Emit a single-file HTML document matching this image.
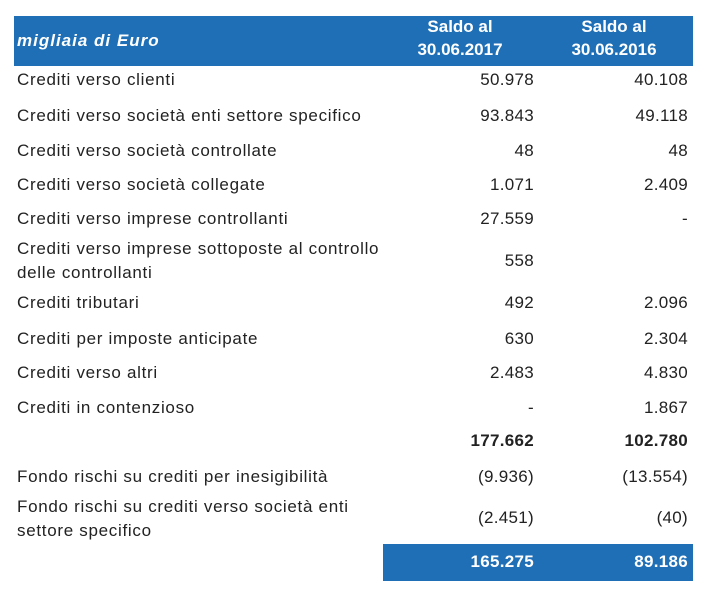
<!DOCTYPE html>
<html><head><meta charset="utf-8"><style>
body{margin:0;width:707px;height:606px;background:#fff;font-family:"Liberation Sans",Arial,sans-serif;color:#222;position:relative;overflow:hidden}
.t{position:absolute;font-size:17px;line-height:24px;white-space:nowrap;letter-spacing:0.7px}
.l{left:17px}
.a{right:173px;text-align:right;letter-spacing:0.3px}
.b{right:19px;text-align:right;letter-spacing:0.3px}
.hd{position:absolute;left:14px;top:16px;width:679px;height:50px;background:#1f6fb7}
.w{color:#fff;font-weight:bold}
</style></head><body>
<div class="hd"></div>
<div class="t w" style="left:17px;top:29px;font-style:italic;letter-spacing:1px">migliaia di Euro</div>
<div class="t w" style="left:400px;width:120px;text-align:center;top:15px;line-height:23px;letter-spacing:0">Saldo al<br>30.06.2017</div>
<div class="t w" style="left:554px;width:120px;text-align:center;top:15px;line-height:23px;letter-spacing:0">Saldo al<br>30.06.2016</div>

<div class="t l" style="top:68px">Crediti verso clienti</div><div class="t a" style="top:68px">50.978</div><div class="t b" style="top:68px">40.108</div>
<div class="t l" style="top:104px">Crediti verso società enti settore specifico</div><div class="t a" style="top:104px">93.843</div><div class="t b" style="top:104px">49.118</div>
<div class="t l" style="top:139px">Crediti verso società controllate</div><div class="t a" style="top:139px">48</div><div class="t b" style="top:139px">48</div>
<div class="t l" style="top:173px">Crediti verso società collegate</div><div class="t a" style="top:173px">1.071</div><div class="t b" style="top:173px">2.409</div>
<div class="t l" style="top:207px">Crediti verso imprese controllanti</div><div class="t a" style="top:207px">27.559</div><div class="t b" style="top:207px">-</div>
<div class="t l" style="top:237px">Crediti verso imprese sottoposte al controllo<br>delle controllanti</div><div class="t a" style="top:249px">558</div>
<div class="t l" style="top:291px">Crediti tributari</div><div class="t a" style="top:291px">492</div><div class="t b" style="top:291px">2.096</div>
<div class="t l" style="top:327px">Crediti per imposte anticipate</div><div class="t a" style="top:327px">630</div><div class="t b" style="top:327px">2.304</div>
<div class="t l" style="top:361px">Crediti verso altri</div><div class="t a" style="top:361px">2.483</div><div class="t b" style="top:361px">4.830</div>
<div class="t l" style="top:396px">Crediti in contenzioso</div><div class="t a" style="top:396px">-</div><div class="t b" style="top:396px">1.867</div>
<div class="t a" style="top:429px;font-weight:bold">177.662</div><div class="t b" style="top:429px;font-weight:bold">102.780</div>
<div class="t l" style="top:465px">Fondo rischi su crediti per inesigibilità</div><div class="t a" style="top:465px">(9.936)</div><div class="t b" style="top:465px">(13.554)</div>
<div class="t l" style="top:495px">Fondo rischi su crediti verso società enti<br>settore specifico</div><div class="t a" style="top:506px">(2.451)</div><div class="t b" style="top:506px">(40)</div>
<div style="position:absolute;left:383px;top:544px;width:310px;height:37px;background:#1f6fb7"></div>
<div class="t a w" style="top:550px">165.275</div><div class="t b w" style="top:550px">89.186</div>
</body></html>
